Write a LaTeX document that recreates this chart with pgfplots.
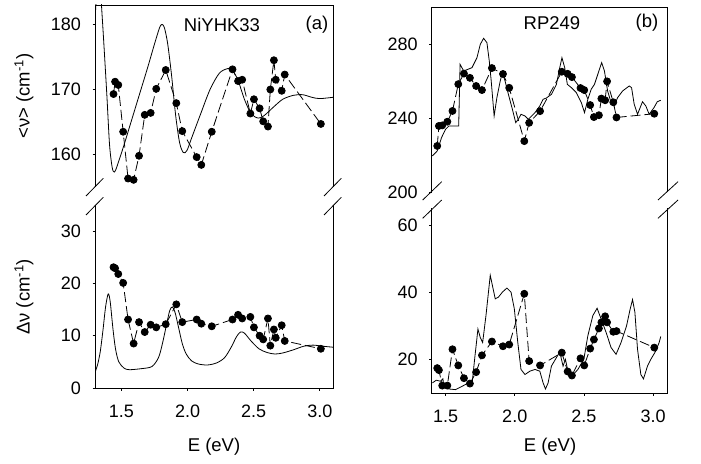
\documentclass[border=0pt]{standalone}
\usepackage{fontspec}
\setmainfont{Liberation Sans}
\usepackage{pgfplots}
\usepackage{pgfplotstable}
\pgfplotsset{compat=1.18}

\pgfplotstableread{
E     anu    adnu  bnu    bdnu
1.440 169.3  23.1  224.9  17.4
1.452 171.2  22.9  235.7  16.8
1.476 170.7  21.8  236.0  12.2
1.513 163.5  20.1  238.0  12.2
1.550 156.3  13.1  243.8  23.0
1.592 156.1  8.5   258.3  18.2
1.633 159.8  12.6  264.0  14.4
1.676 166.1  10.7  261.7  12.8
1.721 166.4  12.1  257.3  16.2
1.763 170.1  11.6  255.1  21.2
1.835 173.0  12.2  267.0  25.3
1.915 167.9  16.0  263.8  23.9
1.960 163.6  12.6  256.3  24.4
2.069 159.6  13.1  227.5  39.5
2.104 158.4  12.3  237.4  19.5
2.183 163.5  11.8  243.7  18.2
2.340 173.1  13.1  265.0  22.0
2.382 171.3  14.0  263.9  16.4
2.413 171.5  13.3  262.1  15.2
2.475 166.3  13.6  256.2  20.3
2.502 168.5  11.6  255.1  18.2
2.545 167.1  10.0  247.0  23.2
2.572 165.1  9.3   240.5  25.9
2.608 164.3  13.3  241.5  29.2
2.626 170.0  8.1   250.5  31.0
2.653 174.5  11.2  249.6  32.8
2.667 171.5  9.6   259.8  31.0
2.712 169.8  12.0  248.5  28.2
2.735 172.3  9.0   240.3  28.4
3.008 164.7  7.5   242.3  23.5
}\pts

\pgfplotsset{
  brk/.style={scale only axis, axis line style={draw=none},
    tick align=outside, major tick length=2.5pt,
    tick style={black, line width=0.6pt},
    tick label style={font=\fontsize{18}{21}\selectfont},
    yticklabel style={xshift=-8pt},
    xticklabel style={yshift=-11pt},
    /pgf/number format/assume math mode=true,
    clip mode=individual, ytick pos=left, xtick pos=bottom},
  dat/.style={black, line width=0.8pt, dash pattern=on 10pt off 4pt,
    mark=*, mark size=3.5pt, mark options={solid, fill=black}},
  cur/.style={black, line width=0.8pt, no marks},
}
\newcommand{\topframe}{\draw[line width=0.8pt] (rel axis cs:0,0) -- (rel axis cs:0,1) -- (rel axis cs:1,1) -- (rel axis cs:1,0);}
\newcommand{\botframe}{\draw[line width=0.8pt] (rel axis cs:0,1) -- (rel axis cs:0,0) -- (rel axis cs:1,0) -- (rel axis cs:1,1);}

\begin{document}
\begin{tikzpicture}[x=1pt,y=1pt]
\path[use as bounding box] (0pt,0pt) rectangle (701pt,463pt);

% ---------- panel (a) top ----------
\begin{axis}[brk, at={(95pt,276pt)}, anchor=south west, width=238pt, height=182pt,
  xmin=1.3, xmax=3.1, ymin=155, ymax=183, xtick=\empty, ytick={160,170,180}]
\addplot[cur, smooth, tension=0.5] coordinates {
(1.300,180.5) (1.310,184) (1.325,186.5) (1.340,185.5) (1.355,181) (1.370,176)
(1.390,169) (1.410,161.5) (1.430,158) (1.445,157.3) (1.460,157.8) (1.480,159)
(1.520,161.5) (1.580,165.5) (1.640,169.5) (1.700,173.5) (1.750,177) (1.790,179.6)
(1.808,180) (1.825,179.5) (1.850,177) (1.880,172) (1.910,166) (1.940,161.8)
(1.968,160.3) (1.995,160.6) (2.030,162.5) (2.100,166.3) (2.170,170) (2.240,172.5)
(2.300,173.2) (2.334,173.1) (2.380,171.5) (2.430,168.5) (2.480,166.3) (2.535,165.6)
(2.580,166) (2.650,167.3) (2.720,168.5) (2.800,169.1) (2.870,169.2) (2.940,168.8)
(3.000,168.6) (3.100,168.8)};
\addplot[dat] table[x=E, y=anu] {\pts};
\topframe
\end{axis}

% ---------- panel (a) bottom ----------
\begin{axis}[brk, at={(95pt,75pt)}, anchor=south west, width=238pt, height=183pt,
  xmin=1.3, xmax=3.1, ymin=0, ymax=35, ytick={0,10,20,30},
  xtick={1.5,2.0,2.5,3.0}, xticklabels={1.5,2.0,2.5,3.0}]
\addplot[cur, smooth, tension=0.5] coordinates {
(1.300,3.0) (1.320,4.5) (1.340,7.0) (1.360,11.0) (1.380,15.5) (1.400,18.0)
(1.415,16.5) (1.435,11.5) (1.455,7.5) (1.480,5.0) (1.520,3.8) (1.560,3.5)
(1.650,3.7) (1.730,4.1) (1.780,5.8) (1.810,8.5) (1.840,12.0) (1.865,14.8)
(1.885,15.5) (1.905,14.5) (1.930,11.8) (1.960,8.5) (1.990,6.5) (2.030,5.2)
(2.080,4.6) (2.150,4.4) (2.220,4.8) (2.280,5.8) (2.330,7.8) (2.370,9.8)
(2.400,10.7) (2.430,10.5) (2.480,9.0) (2.540,7.5) (2.600,6.8) (2.660,6.5)
(2.720,6.7) (2.800,7.3) (2.880,8.0) (2.950,8.2) (3.020,8.0) (3.100,7.8)};
\addplot[dat] table[x=E, y=adnu] {\pts};
\botframe
\end{axis}

% ---------- panel (b) top ----------
\begin{axis}[brk, at={(431.7pt,271pt)}, anchor=south west, width=235.3pt, height=185pt,
  xmin=1.4, xmax=3.1, ymin=200, ymax=300, xtick=\empty, ytick={200,240,280}]
\addplot[cur] coordinates {
(1.405,219.5) (1.440,222.2) (1.471,229.4) (1.500,233.9) (1.524,235.7) (1.595,235.7)
(1.605,269.0) (1.631,265.4) (1.691,267.2) (1.727,272.6) (1.751,279.8) (1.775,283.1)
(1.799,280.7) (1.816,270.8) (1.830,260.0) (1.851,241.1) (1.871,251.0) (1.895,260.0)
(1.911,264.5) (1.930,260.0) (1.954,252.8) (1.983,244.7) (2.007,237.5) (2.026,239.3)
(2.045,242.0) (2.074,241.1) (2.098,239.3) (2.146,242.9) (2.181,246.5) (2.205,250.1)
(2.229,250.8) (2.265,252.8) (2.301,258.2) (2.325,267.2) (2.341,272.6) (2.361,267.2)
(2.380,258.2) (2.409,256.4) (2.445,253.7) (2.481,248.3) (2.504,242.9) (2.528,250.1)
(2.552,255.5) (2.576,258.2) (2.600,263.6) (2.628,269.9) (2.648,265.4) (2.671,254.6)
(2.696,248.3) (2.719,246.5) (2.743,251.0) (2.779,254.6) (2.827,257.3) (2.844,256.4)
(2.863,247.4) (2.887,242.0) (2.923,248.8) (2.947,246.5) (2.971,242.0) (3.006,245.6)
(3.030,248.8) (3.055,249.6)};
\addplot[dat] table[x=E, y=bnu] {\pts};
\topframe
\end{axis}

% ---------- panel (b) bottom ----------
\begin{axis}[brk, at={(431.7pt,70pt)}, anchor=south west, width=235.3pt, height=185pt,
  xmin=1.4, xmax=3.1, ymin=10, ymax=65, ytick={20,40,60},
  xtick={1.5,2.0,2.5,3.0}, xticklabels={1.5,2.0,2.5,3.0}]
\addplot[cur] coordinates {
(1.405,13.0) (1.433,13.8) (1.464,13.5) (1.481,14.2) (1.488,12.0) (1.524,11.2)
(1.572,11.0) (1.620,12.0) (1.656,12.8) (1.691,12.5) (1.710,20.0) (1.734,29.0)
(1.751,26.5) (1.768,25.0) (1.792,33.0) (1.823,45.0) (1.859,38.0) (1.882,38.5)
(1.911,40.0) (1.943,41.2) (1.973,40.0) (1.997,35.0) (2.022,25.0) (2.045,17.0)
(2.074,15.5) (2.110,16.5) (2.146,17.0) (2.181,16.5) (2.205,13.0) (2.222,11.2)
(2.241,13.0) (2.265,18.0) (2.325,22.2) (2.349,18.0) (2.366,20.0) (2.390,15.5)
(2.413,15.0) (2.456,17.0) (2.499,20.0) (2.528,27.0) (2.564,33.0) (2.595,35.2)
(2.624,32.0) (2.660,28.0) (2.696,23.5) (2.732,21.5) (2.768,25.0) (2.808,30.0)
(2.834,35.0) (2.851,37.8) (2.868,34.0) (2.887,23.0) (2.911,15.5) (2.930,14.2)
(2.959,18.0) (2.983,20.0) (3.019,22.5) (3.043,25.0) (3.055,26.8)};
\addplot[dat] table[x=E, y=bdnu] {\pts};
\botframe
\end{axis}

% ---------- axis break marks ----------
\begin{scope}[line width=0.8pt]
\draw (86pt,267pt) -- (103.3pt,284.7pt);  \draw (86pt,248pt) -- (103.3pt,265.7pt);
\draw (324pt,267pt) -- (341.3pt,284.7pt); \draw (324pt,248pt) -- (341.3pt,265.7pt);
\draw (422.7pt,263pt) -- (441.7pt,281.3pt); \draw (422.7pt,244.7pt) -- (441.7pt,263pt);
\draw (658pt,263pt) -- (678pt,281.3pt); \draw (658pt,244.7pt) -- (678pt,263pt);
\end{scope}

% ---------- texts ----------
\begin{scope}[font=\fontsize{18.5}{21}\selectfont]
\node at (222pt,438pt) {NiYHK33};
\node at (317pt,438pt) {(a)};
\node at (552pt,440pt) {RP249};
\node at (647pt,440pt) {(b)};
\node[rotate=90] at (24pt,367pt) {<ν> (cm\textsuperscript{-1})};
\node[rotate=90] at (24pt,166pt) {Δν (cm\textsuperscript{-1})};
\node at (214pt,16pt) {E (eV)};
\node at (550pt,16pt) {E (eV)};
\end{scope}
\end{tikzpicture}
\end{document}
